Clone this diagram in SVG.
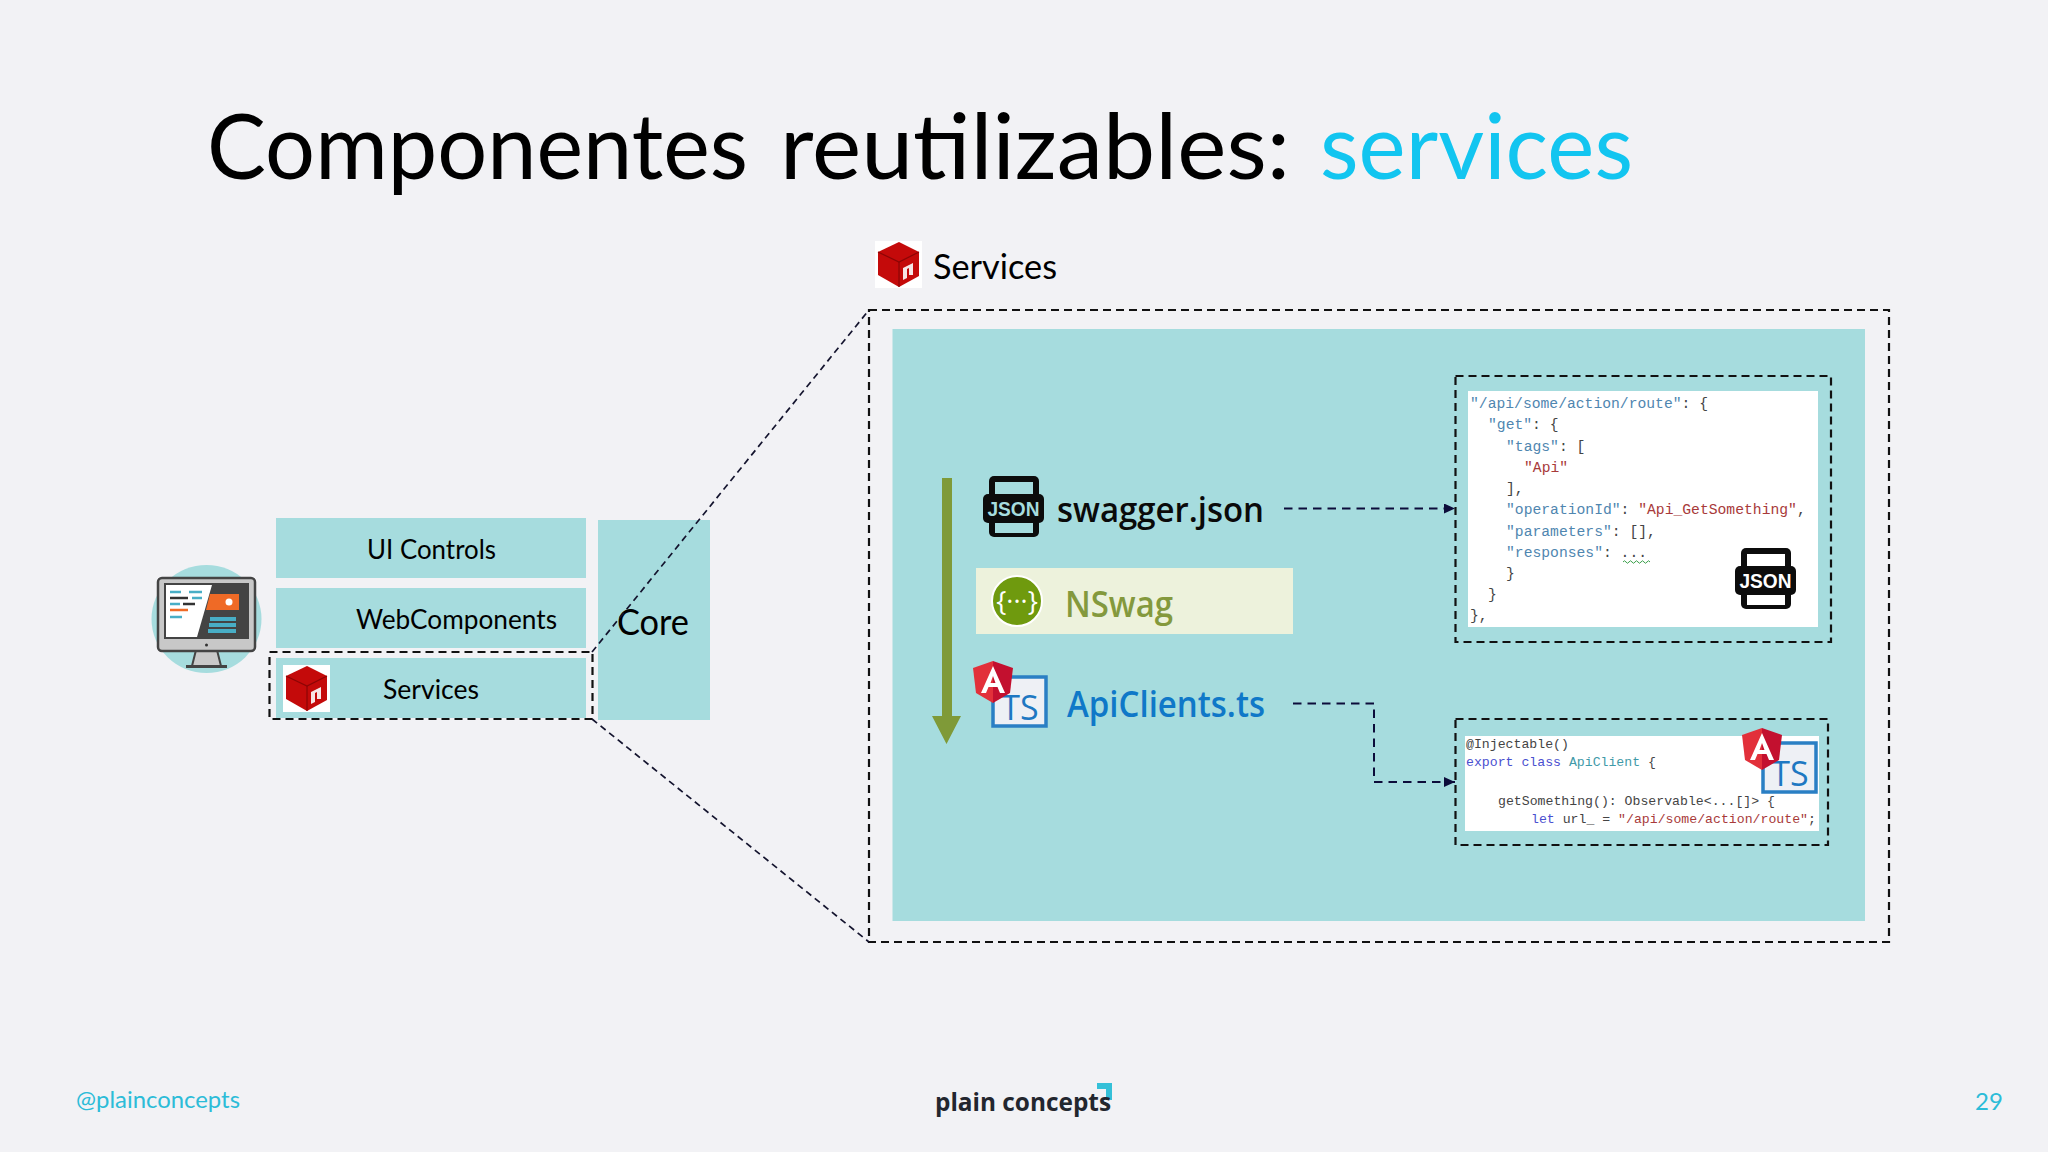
<svg xmlns="http://www.w3.org/2000/svg" width="2048" height="1152" viewBox="0 0 2048 1152">
<style>
.t{font-family:"Lato","Open Sans",sans-serif;fill:#000}
.b{font-family:"Open Sans","Noto Sans",sans-serif;font-weight:600}
.teal{fill:#a6dcde}
.d{fill:none;stroke:#111;stroke-width:2.2;stroke-dasharray:8 5}
.c{fill:none;stroke:#0c0c3a;stroke-width:2;stroke-dasharray:8.500 6}
.z{fill:none;stroke:#14142e;stroke-width:1.700;stroke-dasharray:6.500 4.500}
.m{font-family:"Liberation Mono",monospace;font-size:14.7px;fill:#5a7f9c}
.m2{font-family:"Liberation Mono",monospace;font-size:13.2px;fill:#444}
.k{fill:#4f86b0}.s{fill:#a83a3a}.p{fill:#444}.v{fill:#4a4fd0}.ty{fill:#3f9aa8}
.f{font-family:Lato,sans-serif;font-size:24px;fill:#2cbcd8}
</style>
<defs>
<marker id="ah" markerWidth="12" markerHeight="12" refX="11" refY="5" orient="auto" markerUnits="userSpaceOnUse"><path d="M0 0L11 5L0 10Z" fill="#0c0c3a"/></marker>
<g id="cube">
<rect x="0" y="0" width="47" height="47" fill="#fff"/>
<path d="M24 1L44 11V35L24 46L3 34V11Z" fill="#c40a0a"/>
<path d="M3 11L24 21L44 11" fill="none" stroke="#8c0505" stroke-width="1.200"/>
<path d="M24 21V46" stroke="#8c0505" stroke-width="1.200"/>
<path d="M28 39V27L38 22V34H34V27L32 28V37Z" fill="#f6e6e6"/>
</g>
<g id="json">
<rect x="6" y="0" width="50" height="61" rx="5" fill="#0c0c0c"/>
<rect x="12" y="6" width="38" height="12" fill="currentColor"/>
<rect x="12" y="47" width="38" height="10" fill="currentColor"/>
<rect x="0" y="18" width="61" height="29" rx="5" fill="#0c0c0c"/>
<text x="30.500" y="40" text-anchor="middle" font-family="'Liberation Sans',sans-serif" font-weight="700" font-size="21" textLength="52" lengthAdjust="spacingAndGlyphs" fill="currentColor">JSON</text>
</g>
<g id="ts">
<rect x="2" y="2" width="53" height="49" fill="#eef0f5" stroke="#2a7fc4" stroke-width="3.500"/>
<text x="29" y="45" text-anchor="middle" font-family="'Open Sans',sans-serif" font-size="34" fill="#1e78c2">TS</text>
</g>
<g id="ng">
<path d="M20 0L40 7L37 32L20 42Z" fill="#c3102f"/>
<path d="M20 0L0 7L3 32L20 42Z" fill="#e2303a"/>
<path d="M20 5L8 32H13L15.500 26H24.500L27 32H32ZM17.500 22L20 15L22.500 22Z" fill="#fff" fill-rule="evenodd"/>
</g>
</defs>
<rect width="2048" height="1152" fill="#f2f2f5"/>
<g id="title" font-size="92" class="t">
<text class="t" x="207" y="179" textLength="541" lengthAdjust="spacingAndGlyphs">Componentes</text>
<text class="t" x="780" y="179" textLength="510" lengthAdjust="spacingAndGlyphs">reutilizables:</text>
<text x="1320" y="179" textLength="313" lengthAdjust="spacingAndGlyphs" style="fill:#12c5f0">services</text>
</g>
<g id="client">
<ellipse cx="206.500" cy="619" rx="55" ry="54" class="teal"/>
<path d="M192 666L196 650H217L221 666Z" fill="#c9c9c9" stroke="#444" stroke-width="2"/>
<rect x="186" y="665" width="41" height="3" fill="#444"/>
<rect x="158" y="578" width="97" height="73" rx="4" fill="#c8c8c8" stroke="#444" stroke-width="2.500"/>
<rect x="164" y="583" width="85" height="56" fill="#444"/>
<path d="M166 585H212L197 637H166Z" fill="#fff"/>
<path d="M210 594H239V610H206Z" fill="#ef6a26"/>
<circle cx="229" cy="602" r="3.500" fill="#fff"/>
<path d="M210 619H236M209 625H236M208 631H236" stroke="#48aec6" stroke-width="4"/>
<path d="M170 592H181M189 592H202" stroke="#48aec6" stroke-width="2.500"/>
<path d="M170 598H188" stroke="#333" stroke-width="2.500"/>
<path d="M192 598H202M170 604H180" stroke="#48aec6" stroke-width="2.500"/>
<path d="M183 604H195" stroke="#333" stroke-width="2.500"/>
<path d="M170 610H188" stroke="#ef6a26" stroke-width="2.500"/>
<path d="M170 617H182" stroke="#48aec6" stroke-width="2.500"/>
<circle cx="206.500" cy="645" r="1.500" fill="#333"/>
</g>
<g id="ui-controls">
<rect x="276" y="518" width="310" height="60" class="teal"/>
<text class="t" x="367" y="559" font-size="27" textLength="129" lengthAdjust="spacingAndGlyphs">UI Controls</text>
</g>
<g id="webcomponents">
<rect x="276" y="588" width="310" height="60" class="teal"/>
<text class="t" x="356" y="629" font-size="27" textLength="201" lengthAdjust="spacingAndGlyphs">WebComponents</text>
</g>
<g id="services-layer">
<rect x="276" y="658" width="310" height="60" class="teal"/>
<use href="#cube" x="283" y="665"/>
<text class="t" x="383" y="699" font-size="27" textLength="96" lengthAdjust="spacingAndGlyphs">Services</text>
<rect x="269.500" y="652" width="323" height="67" class="d"/>
</g>
<g id="core">
<rect x="598" y="520" width="112" height="200" class="teal"/>
<text class="t" x="617" y="635" font-size="36" textLength="72" lengthAdjust="spacingAndGlyphs">Core</text>
</g>
<g id="services-panel">
<rect x="892.500" y="329" width="972.500" height="592" class="teal"/>
<rect x="869" y="310" width="1020" height="632" class="d"/>
<use href="#cube" x="875" y="241"/>
<text class="t" x="933" y="279" font-size="34" textLength="124" lengthAdjust="spacingAndGlyphs">Services</text>
</g>
<g id="flow-arrow"><path d="M942 478H952V716H961L946.500 744L932 716H942Z" fill="#7f9a38"/></g>
<g id="swagger">
<use href="#json" x="983" y="476" color="#a6dcde"/>
<text class="b" x="1057" y="522" font-size="35" textLength="207" lengthAdjust="spacingAndGlyphs" fill="#0a0a0a">swagger.json</text>
</g>
<g id="nswag">
<rect x="976" y="568" width="317" height="66" fill="#edf2dc"/>
<circle cx="1017" cy="601" r="25" fill="#6f9a0e" stroke="#fff" stroke-width="2"/>
<text x="1017" y="611" text-anchor="middle" font-family="'Open Sans',sans-serif" font-size="27" fill="#fff">{···}</text>
<text class="b" x="1065" y="617" font-size="36" textLength="108" lengthAdjust="spacingAndGlyphs" fill="#84993d">NSwag</text>
</g>
<g id="apiclients">
<use href="#ts" x="991" y="675"/>
<use href="#ng" x="973" y="661"/>
<text class="b" x="1067" y="717" font-size="36" textLength="198" lengthAdjust="spacingAndGlyphs" fill="#0f78c8">ApiClients.ts</text>
</g>
<g id="swagger-code">
<rect x="1468" y="391" width="350" height="236" fill="#fff"/>
<rect x="1455.500" y="376" width="375.500" height="266" class="d"/>
<text class="m" x="1470" y="408"><tspan class="k">"/api/some/action/route"</tspan><tspan class="p">: {</tspan></text>
<text class="m" x="1488" y="429"><tspan class="k">"get"</tspan><tspan class="p">: {</tspan></text>
<text class="m" x="1506" y="450.500"><tspan class="k">"tags"</tspan><tspan class="p">: [</tspan></text>
<text class="m" x="1524" y="471.500"><tspan class="s">"Api"</tspan></text>
<text class="m" x="1506" y="493"><tspan class="p">],</tspan></text>
<text class="m" x="1506" y="514"><tspan class="k">"operationId"</tspan><tspan class="p">: </tspan><tspan class="s">"Api_GetSomething"</tspan><tspan class="p">,</tspan></text>
<text class="m" x="1506" y="535.500"><tspan class="k">"parameters"</tspan><tspan class="p">: [],</tspan></text>
<text class="m" x="1506" y="557"><tspan class="k">"responses"</tspan><tspan class="p">: ...</tspan></text>
<path d="M1623 562q1.500-2.500 3 0t3 0t3 0t3 0t3 0t3 0t3 0t3 0t3 0" fill="none" stroke="#3aa04a" stroke-width="1"/>
<text class="m" x="1506" y="578"><tspan class="p">}</tspan></text>
<text class="m" x="1488" y="599"><tspan class="p">}</tspan></text>
<text class="m" x="1470" y="620"><tspan class="p">},</tspan></text>
<use href="#json" x="1735" y="548" color="#fff"/>
</g>
<g id="apiclient-code">
<rect x="1465" y="736" width="354" height="95" fill="#fff"/>
<rect x="1455.500" y="719" width="372.500" height="126" class="d"/>
<text class="m2" x="1466" y="748">@Injectable()</text>
<text class="m2" x="1466" y="766"><tspan class="v">export class </tspan><tspan class="ty">ApiClient</tspan> {</text>
<text class="m2" x="1498" y="805">getSomething(): Observable&lt;...[]&gt; {</text>
<text class="m2" x="1531" y="823"><tspan class="v">let</tspan> url_ = <tspan class="s">"/api/some/action/route"</tspan>;</text>
<use href="#ts" x="1761" y="741"/>
<use href="#ng" x="1742" y="728"/>
</g>
<g id="connectors">
<path class="z" d="M592 652L869 310"/>
<path class="z" d="M592 719L869 942"/>
<path class="c" d="M1284 508.500H1455" marker-end="url(#ah)"/>
<path class="c" d="M1293 703.500H1374V782H1455" marker-end="url(#ah)"/>
</g>
<g id="footer">
<text class="f" x="76" y="1108" textLength="164" lengthAdjust="spacingAndGlyphs">@plainconcepts</text>
<path d="M1097 1083H1112V1100H1106V1089H1097Z" fill="#35c0d8"/>
<text x="935" y="1111" font-family="'Open Sans',sans-serif" font-weight="700" font-size="25" textLength="176" lengthAdjust="spacingAndGlyphs" fill="#23262e">plain concepts</text>
<text class="f" x="1975" y="1110">29</text>
</g>
</svg>
